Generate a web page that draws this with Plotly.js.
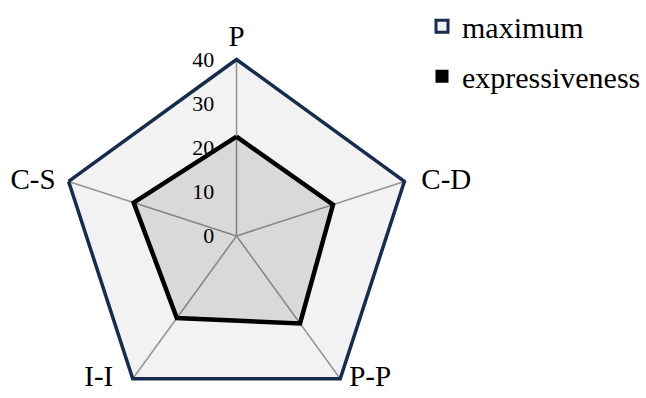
<!DOCTYPE html>
<html>
<head>
<meta charset="utf-8">
<script src="https://cdn.plot.ly/plotly-3.0.1.min.js"></script>
<style>
html, body { margin: 0; padding: 0; overflow: hidden; background: #ffffff; }
#chart { width: 646px; height: 420px; }
</style>
</head>
<body>
<div id="chart"></div>
<script>
var categories = ['P', 'C-D', 'P-P', 'I-I', 'C-S'];
var maximum = [40, 40, 40, 40, 40];
var expressiveness = [22.5, 23, 24.5, 23, 24.5];
var radialTicks = [0, 10, 20, 30, 40];

function closed(arr) { return arr.concat([arr[0]]); }

var serif = 'Liberation Serif';
var navy = '#172b4d';

// label placement around the outer polygon (style only)
var labelPos = ['top center', 'middle right', 'middle right', 'middle left', 'middle left'];
var labelPad = [8, 25.6, 12.8, 29.6, 19.2];

var traces = [
  {
    type: 'scatterpolar', name: 'maximum', showlegend: false,
    r: closed(maximum), theta: closed(categories),
    mode: 'lines', fill: 'toself', fillcolor: 'rgba(0,0,0,0.051)',
    line: { color: navy, width: 0 }, hoverinfo: 'skip'
  },
  {
    type: 'scatterpolar', name: 'expressiveness', showlegend: false,
    r: closed(expressiveness), theta: closed(categories),
    mode: 'lines', fill: 'toself', fillcolor: 'rgba(0,0,0,0.1)',
    line: { color: '#000000', width: 4.5 }, hoverinfo: 'skip'
  },
  {
    type: 'scatterpolar', name: 'labels', showlegend: false,
    r: maximum, theta: categories, text: categories,
    mode: 'markers+text', cliponaxis: false,
    marker: { size: labelPad, opacity: 0 },
    textposition: labelPos,
    textfont: { family: serif, size: 29, color: '#000000' }, hoverinfo: 'skip'
  },
  {
    type: 'scatterpolar', name: 'maximum', legendgroup: 'a',
    r: [null], theta: [null], mode: 'markers',
    marker: { symbol: 'square', size: 12, color: '#f2f2f2', line: { color: navy, width: 3 } }
  },
  {
    type: 'scatterpolar', name: 'expressiveness', legendgroup: 'b',
    r: [null], theta: [null], mode: 'markers',
    marker: { symbol: 'square', size: 13, color: '#000000', line: { width: 0 } }
  }
];

var layout = {
  width: 646, height: 420,
  margin: { l: 0, r: 0, t: 0, b: 0 },
  paper_bgcolor: '#ffffff',
  font: { family: serif, color: '#000000' },
  showlegend: true,
  legend: {
    x: 0.6703, xanchor: 'left', y: 1.024, yanchor: 'top',
    font: { family: serif, size: 30, color: '#000000' },
    traceorder: 'grouped', tracegroupgap: 8,
    bgcolor: 'rgba(0,0,0,0)'
  },
  polar: {
    domain: { x: [61.5 / 646, 423.5 / 646], y: [7.5 / 420, 369.5 / 420] },
    gridshape: 'linear',
    bgcolor: 'rgba(0,0,0,0)',
    angularaxis: {
      rotation: 90, direction: 'clockwise',
      categoryorder: 'array', categoryarray: categories,
      showline: true, linecolor: navy, linewidth: 3.5,
      ticks: '', showticklabels: false,
      showgrid: true, gridcolor: '#9c9c9c', gridwidth: 1.5,
      layer: 'above traces'
    },
    radialaxis: {
      range: [0, 40], angle: 90, side: 'counterclockwise',
      tickmode: 'array', tickvals: radialTicks, ticktext: radialTicks.map(String),
      showgrid: false, showline: false,
      ticks: 'outside', ticklen: 14, tickcolor: 'rgba(0,0,0,0)',
      tickangle: 90, layer: 'above traces',
      tickfont: { family: serif, size: 22, color: '#000000' }
    }
  }
};

Plotly.newPlot('chart', traces, layout, { displayModeBar: false, staticPlot: true });
</script>
</body>
</html>
